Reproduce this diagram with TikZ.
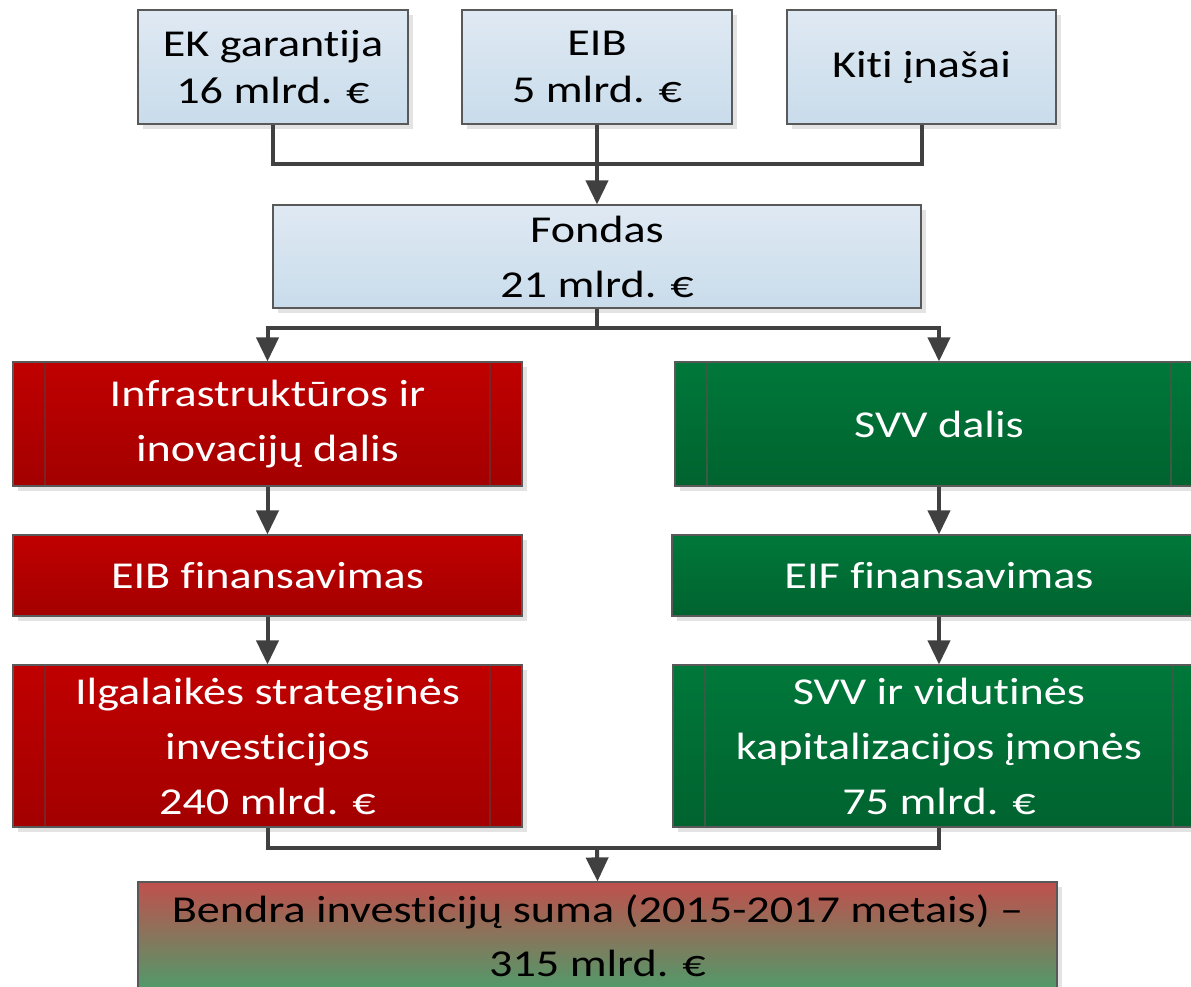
\documentclass[tikz,border=0pt]{standalone}
\usepackage{fontspec}
\setmainfont{Carlito}[FakeStretch=1.215, Ligatures=NoCommon]
\usetikzlibrary{arrows.meta,shadows}
\definecolor{bluetop}{HTML}{DFE9F3}
\definecolor{bluebot}{HTML}{C9DCEB}
\definecolor{redtop}{HTML}{C00000}
\definecolor{redbot}{HTML}{A30000}
\definecolor{greentop}{HTML}{00783A}
\definecolor{greenbot}{HTML}{00632F}
\definecolor{mixtop}{HTML}{C0504D}
\definecolor{mixbot}{HTML}{4F9B6A}
\definecolor{boxborder}{HTML}{595959}
\definecolor{shadowgray}{HTML}{E3E3E3}
\definecolor{linegray}{HTML}{404040}
\definecolor{redinner}{HTML}{7A2424}
\definecolor{greeninner}{HTML}{3A5A45}
\begin{document}
\begin{tikzpicture}[x=1pt,y=-1pt,
  box/.style={draw=boxborder, line width=1.2pt, inner sep=0pt, align=center,
    general shadow={fill=shadowgray, shadow xshift=5pt, shadow yshift=-5pt}},
  bluebox/.style={box, top color=bluetop, bottom color=bluebot, text=black,
    font=\fontsize{38}{47}\selectfont},
  redbox/.style={box, top color=redtop, bottom color=redbot, text=white,
    font=\fontsize{38}{55}\selectfont},
  greenbox/.style={box, top color=greentop, bottom color=greenbot, text=white,
    font=\fontsize{38}{55}\selectfont},
  mixbox/.style={box, top color=mixtop, bottom color=mixbot, text=black,
    font=\fontsize{38}{54}\selectfont},
  subproc/.style={path picture={
    \draw[#1, line width=1.2pt] ([xshift=32pt]path picture bounding box.north west) -- ([xshift=32pt]path picture bounding box.south west);
    \draw[#1, line width=1.2pt] ([xshift=-32pt]path picture bounding box.north east) -- ([xshift=-32pt]path picture bounding box.south east);}},
  conn/.style={draw=linegray, line width=4pt},
  arr/.style={conn, -{Triangle[width=22pt,length=24pt]}}
]
\useasboundingbox (0,0) rectangle (1191,986);

% top row
\node[bluebox, minimum width=270pt, minimum height=114pt] (ek) at (273,67) {EK garantija\\16 mlrd. €};
\node[bluebox, minimum width=270pt, minimum height=114pt] (eib) at (597,67) {EIB\\5 mlrd. €};
\node[bluebox, minimum width=269pt, minimum height=114pt] (kiti) at (921.5,67) {Kiti įnašai};
\node[bluebox, font=\fontsize{38}{55}\selectfont, minimum width=648pt, minimum height=103pt] (fondas) at (597,256.5) {Fondas\\21 mlrd. €};

% left column
\node[redbox, subproc=redinner, minimum width=509pt, minimum height=124pt] (infra) at (267.5,424) {Infrastruktūros ir\\inovacijų dalis};
\node[redbox, minimum width=509pt, minimum height=81pt] (eibf) at (267.5,575.5) {EIB finansavimas};
\node[redbox, subproc=redinner, minimum width=509pt, minimum height=162pt] (ilg) at (267.5,746) {Ilgalaikės strateginės\\investicijos\\240 mlrd. €};

% right column
\node[greenbox, subproc=greeninner, minimum width=528pt, minimum height=124pt] (svvd) at (939,424) {SVV dalis};
\node[greenbox, minimum width=534pt, minimum height=81pt] (eiff) at (939,575.5) {EIF finansavimas};
\node[greenbox, subproc=greeninner, minimum width=532pt, minimum height=162pt] (svvi) at (939,746) {SVV ir vidutinės\\kapitalizacijos įmonės\\75 mlrd. €};

% bottom
\node[mixbox, minimum width=919pt, minimum height=108pt] (bendra) at (597.5,936) {Bendra investicijų suma (2015-2017 metais) –\\315 mlrd. €};

% connectors
\coordinate (topjoin) at (597,164);
\coordinate (split) at (597,328);
\coordinate (botjoin) at (597,848);

\draw[conn] (ek.south) |- (topjoin);
\draw[conn] (kiti.south) |- (topjoin);
\draw[arr] (eib.south) -- (fondas.north);

\draw[conn] (fondas.south) -- (split);
\draw[arr] (split) -| (infra.north);
\draw[arr] (split) -| (svvd.north);

\draw[arr] (infra.south) -- (eibf.north);
\draw[arr] (eibf.south) -- (ilg.north);
\draw[arr] (svvd.south) -- (eiff.north);
\draw[arr] (eiff.south) -- (svvi.north);

\draw[conn] (ilg.south) |- (botjoin);
\draw[conn] (svvi.south) |- (botjoin);
\draw[arr] (botjoin) -- (bendra.north);
\end{tikzpicture}
\end{document}
